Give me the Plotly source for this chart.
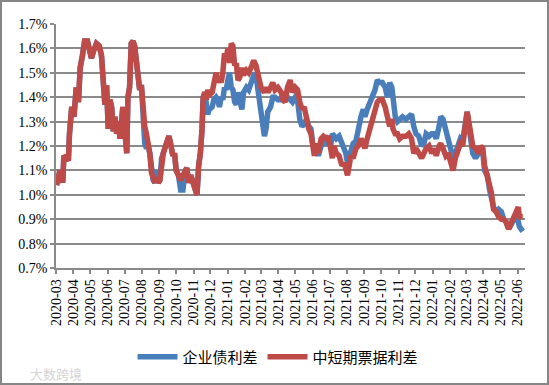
import pandas as pd
import plotly.graph_objects as go

start_date = "2020-03-01"
# observation dates, as day offsets from start_date
day_offset = [1, 7, 12, 14, 19, 22, 24, 28, 32, 36, 40, 43, 47, 51, 56, 59, 63, 67, 72, 77,
              81, 84, 87, 90, 93, 96, 99, 102, 105, 108, 111, 114, 117, 119, 122, 126, 128, 131, 134, 137,
              140, 143, 146, 149, 152, 155, 158, 161, 164, 167, 170, 173, 176, 179, 182, 185, 188, 191, 195, 201,
              204, 208, 211, 214, 218, 222, 226, 230, 233, 236, 240, 244, 248, 251, 254, 257, 260, 262, 265, 268,
              270, 273, 278, 281, 285, 288, 291, 294, 297, 300, 303, 306, 309, 312, 315, 318, 321, 324, 327, 331,
              334, 339, 343, 347, 352, 356, 360, 365, 368, 371, 374, 377, 382, 386, 390, 395, 401, 404, 408, 412,
              417, 421, 426, 430, 434, 438, 442, 446, 450, 454, 457, 460, 464, 467, 472, 476, 481, 485, 489, 492,
              495, 499, 504, 509, 513, 516, 519, 522, 525, 529, 534, 538, 543, 547, 550, 554, 559, 563, 568, 572,
              576, 581, 586, 590, 594, 598, 600, 604, 608, 612, 617, 623, 628, 633, 637, 641, 646, 651, 655, 659,
              664, 669, 673, 677, 682, 685, 689, 694, 698, 703, 707, 711, 716, 720, 724, 729, 732, 735, 738, 742,
              747, 752, 756, 760, 763, 768, 772, 775, 779, 784, 788, 793, 797, 801, 806, 811, 815, 819, 823, 825,
              828, 831]

# 中短期票据利差 (%)
mtn_spread = [1.04, 1.10, 1.05, 1.16, 1.15, 1.14, 1.25, 1.36, 1.32, 1.44, 1.38, 1.52, 1.57, 1.63, 1.63, 1.59, 1.56, 1.59, 1.62, 1.61,
              1.57, 1.47, 1.37, 1.45, 1.27, 1.39, 1.36, 1.26, 1.32, 1.25, 1.30, 1.23, 1.32, 1.36, 1.28, 1.17, 1.40, 1.44, 1.62, 1.63,
              1.61, 1.54, 1.46, 1.43, 1.45, 1.31, 1.28, 1.25, 1.21, 1.17, 1.09, 1.06, 1.05, 1.07, 1.05, 1.06, 1.15, 1.17, 1.20, 1.24,
              1.21, 1.16, 1.17, 1.10, 1.08, 1.06, 1.08, 1.10, 1.11, 1.05, 1.08, 1.05, 1.02, 1.00, 1.12, 1.17, 1.27, 1.40, 1.42, 1.39,
              1.43, 1.41, 1.42, 1.45, 1.50, 1.46, 1.48, 1.46, 1.50, 1.58, 1.56, 1.60, 1.54, 1.62, 1.61, 1.53, 1.54, 1.47, 1.48, 1.52,
              1.49, 1.51, 1.50, 1.52, 1.55, 1.53, 1.48, 1.44, 1.43, 1.42, 1.44, 1.42, 1.44, 1.46, 1.43, 1.44, 1.42, 1.39, 1.38, 1.44,
              1.47, 1.42, 1.44, 1.43, 1.38, 1.35, 1.36, 1.31, 1.27, 1.25, 1.20, 1.16, 1.21, 1.17, 1.23, 1.24, 1.23, 1.24, 1.19, 1.15,
              1.20, 1.17, 1.16, 1.12, 1.13, 1.10, 1.08, 1.12, 1.16, 1.15, 1.19, 1.20, 1.23, 1.21, 1.19, 1.23, 1.27, 1.32, 1.35, 1.38,
              1.39, 1.39, 1.36, 1.32, 1.28, 1.31, 1.27, 1.25, 1.25, 1.23, 1.24, 1.24, 1.25, 1.23, 1.17, 1.19, 1.17, 1.15, 1.17, 1.19,
              1.20, 1.17, 1.19, 1.16, 1.20, 1.21, 1.19, 1.16, 1.17, 1.12, 1.10, 1.15, 1.19, 1.21, 1.20, 1.27, 1.34, 1.30, 1.25, 1.20,
              1.19, 1.17, 1.20, 1.19, 1.12, 1.08, 1.04, 1.01, 0.94, 0.93, 0.91, 0.90, 0.90, 0.89, 0.86, 0.89, 0.90, 0.93, 0.95, 0.91,
              0.91, 0.91]

# 企业债利差 (%)
corp_spread = [1.04, 1.10, 1.05, 1.16, 1.15, 1.14, 1.25, 1.36, 1.32, 1.44, 1.38, 1.52, 1.57, 1.63, 1.63, 1.59, 1.56, 1.59, 1.62, 1.61,
               1.57, 1.47, 1.37, 1.45, 1.27, 1.39, 1.36, 1.26, 1.32, 1.25, 1.30, 1.23, 1.32, 1.36, 1.28, 1.17, 1.40, 1.44, 1.62, 1.63,
               1.61, 1.54, 1.46, 1.43, 1.45, 1.27, 1.21, 1.19, 1.20, 1.17, 1.09, 1.06, 1.05, 1.10, 1.05, 1.06, 1.15, 1.17, 1.20, 1.24,
               1.21, 1.16, 1.17, 1.10, 1.08, 1.02, 1.02, 1.10, 1.11, 1.05, 1.08, 1.05, 1.02, 1.00, 1.12, 1.17, 1.27, 1.40, 1.42, 1.34,
               1.33, 1.35, 1.36, 1.39, 1.40, 1.39, 1.36, 1.40, 1.39, 1.44, 1.43, 1.47, 1.50, 1.44, 1.43, 1.38, 1.37, 1.42, 1.38, 1.35,
               1.42, 1.44, 1.43, 1.46, 1.49, 1.49, 1.42, 1.36, 1.28, 1.24, 1.27, 1.34, 1.36, 1.40, 1.40, 1.39, 1.39, 1.40, 1.40, 1.40,
               1.39, 1.38, 1.40, 1.39, 1.31, 1.28, 1.29, 1.31, 1.28, 1.27, 1.21, 1.20, 1.19, 1.16, 1.20, 1.21, 1.23, 1.21, 1.20, 1.25,
               1.24, 1.23, 1.24, 1.21, 1.19, 1.17, 1.13, 1.16, 1.17, 1.21, 1.22, 1.27, 1.32, 1.35, 1.32, 1.35, 1.38, 1.40, 1.43, 1.47,
               1.46, 1.46, 1.44, 1.40, 1.46, 1.44, 1.39, 1.32, 1.30, 1.31, 1.32, 1.31, 1.32, 1.33, 1.28, 1.25, 1.24, 1.20, 1.21, 1.25,
               1.24, 1.25, 1.25, 1.23, 1.28, 1.32, 1.31, 1.27, 1.24, 1.19, 1.15, 1.17, 1.20, 1.23, 1.22, 1.30, 1.34, 1.28, 1.22, 1.17,
               1.15, 1.17, 1.20, 1.17, 1.10, 1.08, 1.02, 0.99, 0.95, 0.93, 0.94, 0.93, 0.90, 0.89, 0.86, 0.88, 0.90, 0.90, 0.89, 0.87,
               0.86, 0.85]

y_ticks = [0.7, 0.8, 0.9, 1.0, 1.1, 1.2, 1.3, 1.4, 1.5, 1.6, 1.7]
series_names = ["企业债利差", "中短期票据利差"]
colors = ["#4A7EBB", "#BE4B48"]

dates = pd.Timestamp(start_date) + pd.to_timedelta(day_offset, unit="D")

fig = go.Figure()
for name, vals, col in zip(series_names, [corp_spread, mtn_spread], colors):
    fig.add_trace(go.Scatter(x=dates, y=vals, mode="lines", name=name,
                             line=dict(color=col, width=5.5)))

W, H = 549, 385
ml, mr, mt, mb = 56, 24, 24, 117
pw, ph = W - ml - mr, H - mt - mb

def px_x(p):
    return (p - ml) / pw

def px_y(p):
    return (H - mb - p) / ph

serif = "Liberation Serif, Times New Roman, serif"
grid = "#8A8A8A"

fig.update_layout(
    width=W, height=H,
    margin=dict(l=ml, r=mr, t=mt, b=mb),
    paper_bgcolor="white", plot_bgcolor="white",
    showlegend=True,
    legend=dict(orientation="h", x=px_x(278), xanchor="center", y=px_y(357), yanchor="middle",
                font=dict(family="Noto Sans CJK SC", size=15, color="#000"),
                itemwidth=40, bgcolor="rgba(0,0,0,0)"),
    xaxis=dict(type="date", range=["2020-03-01", "2022-06-14"],
               tick0="2020-03-01", dtick="M1", tickformat="%Y-%m", tickangle=-90,
               tickfont=dict(family=serif, size=14, color="#000"),
               showgrid=False, showline=True, linecolor=grid, linewidth=1.5,
               ticks="outside", ticklen=4, tickcolor=grid, tickwidth=1.5, zeroline=False),
    yaxis=dict(range=[0.7, 1.7], tickvals=y_ticks, ticktext=[f"{v:.1f}%" for v in y_ticks],
               tickfont=dict(family=serif, size=14, color="#000"),
               showgrid=True, gridcolor=grid, gridwidth=1.5,
               showline=True, linecolor=grid, linewidth=1.5,
               ticks="outside", ticklen=4, tickcolor=grid, tickwidth=1.5, zeroline=False),
    shapes=[dict(type="rect", xref="paper", yref="paper",
                 x0=px_x(1), x1=px_x(548), y0=px_y(384), y1=px_y(1),
                 line=dict(color="#868686", width=2), fillcolor="rgba(0,0,0,0)", layer="above")],
    annotations=[dict(text="大数跨境", xref="paper", yref="paper", x=px_x(28), y=px_y(373),
                      xanchor="left", yanchor="middle", showarrow=False,
                      font=dict(family="Noto Sans CJK SC", size=13, color="#D4D4D4"))],
)

fig.write_html("out.html", config={"displayModeBar": False},
               post_script="document.body.style.margin='0';document.body.style.overflow='hidden';")
